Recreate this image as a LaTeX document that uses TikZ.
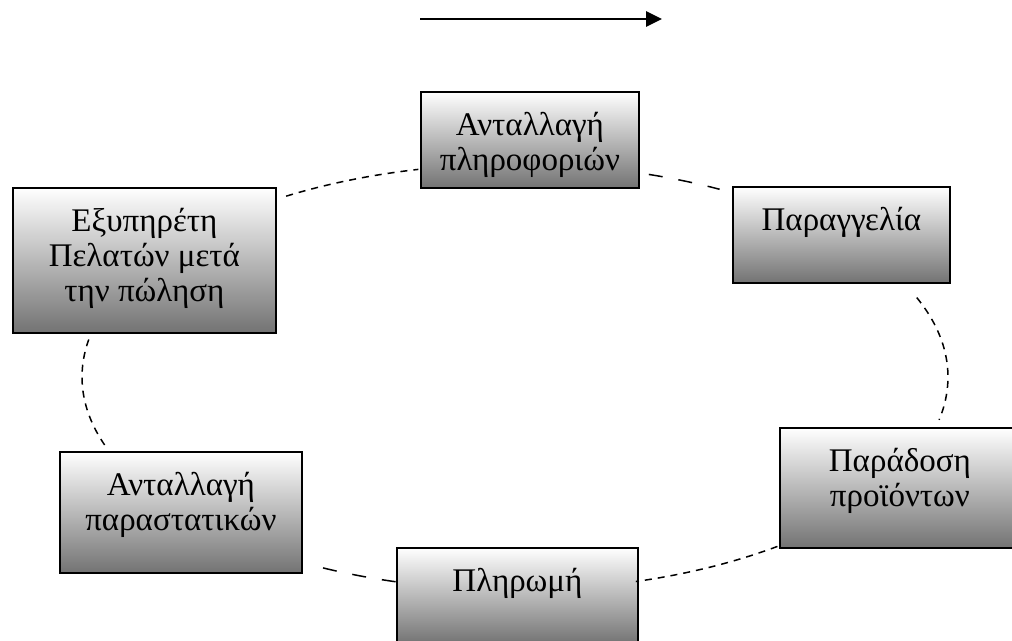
\documentclass[tikz,border=0pt]{standalone}
\usepackage{fontspec}
\setmainfont{Liberation Serif}
\usetikzlibrary{arrows.meta}
\tikzset{
  procbox/.style={draw=black, line width=1.8pt, top color=white, bottom color=black!55,
    inner sep=0pt, anchor=north west, font=\fontsize{33}{35}\selectfont},
  conn/.style={line width=1.5pt, dash pattern=on 7pt off 6pt},
  connlong/.style={line width=1.5pt, dash pattern=on 14pt off 16pt},
  flowarrow/.style={line width=2.8pt, -{Triangle[length=16pt,width=15pt]}}
}
\newcommand{\bxt}[3]{\parbox[t][#2pt][t]{#1pt}{\centering\rule{0pt}{44pt}#3}}
\begin{document}
\begin{tikzpicture}[x=1pt,y=-1pt]
\useasboundingbox (0,0) rectangle (1012,640);
\clip (0,0) rectangle (1012,640);
% flow arrow
\coordinate (a0) at (420,19);
\coordinate (a1) at (662,19);
\draw[flowarrow] (a0) -- (a1);
% boxes
\node[procbox] (info)  at (420,91)  {\bxt{218}{96}{Ανταλλαγή\\πληροφοριών}};
\node[procbox] (cust)  at (12,187)  {\bxt{263}{145}{Εξυπηρέτη\\Πελατών μετά\\την πώληση}};
\node[procbox] (order) at (732,186) {\bxt{217}{96}{Παραγγελία}};
\node[procbox] (deliv) at (779,427) {\bxt{240}{120}{Παράδοση\\προϊόντων}};
\node[procbox] (docs)  at (59,451)  {\bxt{242}{121}{Ανταλλαγή\\παραστατικών}};
\node[procbox] (pay)   at (396,547) {\bxt{241}{96}{Πληρωμή}};
% connectors: arcs of one ellipse, centre (515,377), radii 433 x 213
\coordinate (c1) at ({515+433*cos(-121.9)},{377+213*sin(-121.9)});
\coordinate (c2) at ({515+433*cos(-72)},{377+213*sin(-72)});
\coordinate (c3) at ({515+433*cos(-21.9)},{377+213*sin(-21.9)});
\coordinate (c4) at ({515+433*cos(52.7)},{377+213*sin(52.7)});
\coordinate (c5) at ({515+433*cos(106)},{377+213*sin(106)});
\coordinate (c6) at ({515+433*cos(161.4)},{377+213*sin(161.4)});
\draw[conn] (c1) arc[start angle=-121.9, end angle=-102.9, x radius=433, y radius=213];
\draw[connlong] (c2) arc[start angle=-72, end angle=-61.8, x radius=433, y radius=213];
\draw[conn] (c3) arc[start angle=-21.9, end angle=11.6, x radius=433, y radius=213];
\draw[conn] (c4) arc[start angle=52.7, end angle=73.8, x radius=433, y radius=213];
\draw[connlong] (c5) arc[start angle=106, end angle=117.7, x radius=433, y radius=213];
\draw[conn] (c6) arc[start angle=161.4, end angle=190.5, x radius=433, y radius=213];
\end{tikzpicture}
\end{document}
